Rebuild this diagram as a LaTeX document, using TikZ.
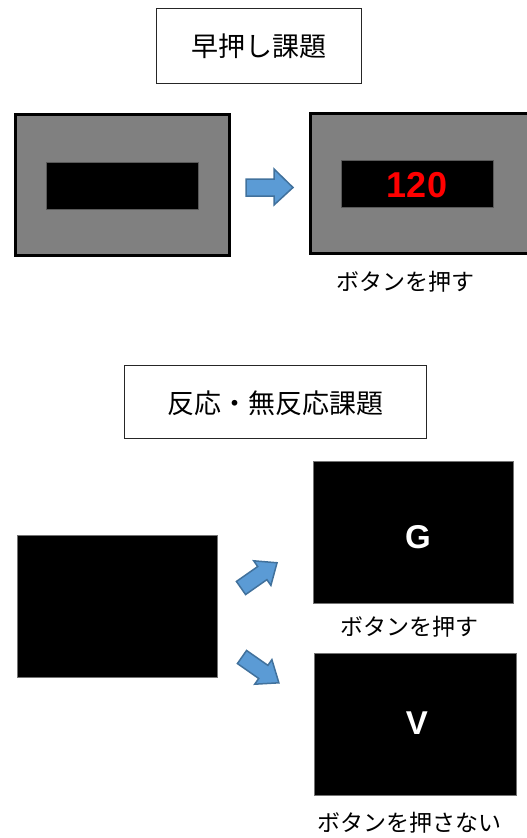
\documentclass[tikz,border=0pt]{standalone}
\usepackage{fontspec}
\setmainfont{Liberation Sans}
\newfontfamily\jp{Noto Sans CJK JP}
\definecolor{arrowfill}{HTML}{5B9BD5}
\definecolor{arrowline}{HTML}{41719C}
\definecolor{screengray}{HTML}{808080}
\begin{document}
\begin{tikzpicture}[x=1pt,y=-1pt,
  titlebox/.style={draw=black!85,line width=1pt,fill=white},
  titletext/.style={font=\jp\fontsize{27}{27}\selectfont,inner sep=0pt},
  labeltext/.style={font=\jp\fontsize{23}{23}\selectfont,inner sep=0pt},
  grayscreen/.style={draw=black,line width=3pt,fill=screengray},
  innerbar/.style={draw=black!65,line width=0.8pt,fill=black},
  blackscreen/.style={draw=black!55,line width=0.8pt,fill=black},
  blockarrow/.style={draw=arrowline,fill=arrowfill,line width=1.5pt,line join=miter},
  bigletter/.style={font=\bfseries\fontsize{33}{33}\selectfont,text=white,inner sep=0pt}
]
\useasboundingbox (0,0) rectangle (527,838);
\clip (0,0) rectangle (527,838);
% --- top section
\draw[titlebox] (156,8) rectangle (361,83);
\node[titletext] (t1) at (258.5,46) {早押し課題};

\draw[grayscreen] (15,114) rectangle (229,255);
\draw[innerbar] (46,162) rectangle (198,209);

\path[blockarrow] (246,179) -- (274,179) -- (274,169) -- (293,187.5) -- (274,205) -- (274,196) -- (246,196) -- cycle;

\draw[grayscreen] (310,113) rectangle (528,253);
\draw[innerbar] (341,160) rectangle (493,207);
\node[font=\bfseries\fontsize{36}{36}\selectfont,text=red,inner sep=0pt] (n120) at (417,185) {120};

\node[labeltext] (l1) at (405,282) {ボタンを押す};

% --- bottom section
\draw[titlebox] (124,365) rectangle (426,438);
\node[titletext] (t2) at (275,403) {反応・無反応課題};

\draw[blackscreen] (17,535) rectangle (217,677);
\draw[blackscreen] (313,461) rectangle (513,603);
\node[bigletter] (g) at (418,537) {G};
\draw[blackscreen] (314,653) rectangle (516,795);
\node[bigletter] (v) at (417,723) {V};

\begin{scope}[shift={(241,588)},rotate=35]
\path[blockarrow] (0,-8) -- (26,-8) -- (26,-15) -- (44,0) -- (26,15) -- (26,8) -- (0,8) -- cycle;
\end{scope}
\begin{scope}[shift={(242,657)},rotate=-35]
\path[blockarrow] (0,-8) -- (26,-8) -- (26,-15) -- (45,0) -- (26,15) -- (26,8) -- (0,8) -- cycle;
\end{scope}

\node[labeltext] (l2) at (409,627) {ボタンを押す};
\node[labeltext] (l3) at (409,823) {ボタンを押さない};
\end{tikzpicture}
\end{document}
